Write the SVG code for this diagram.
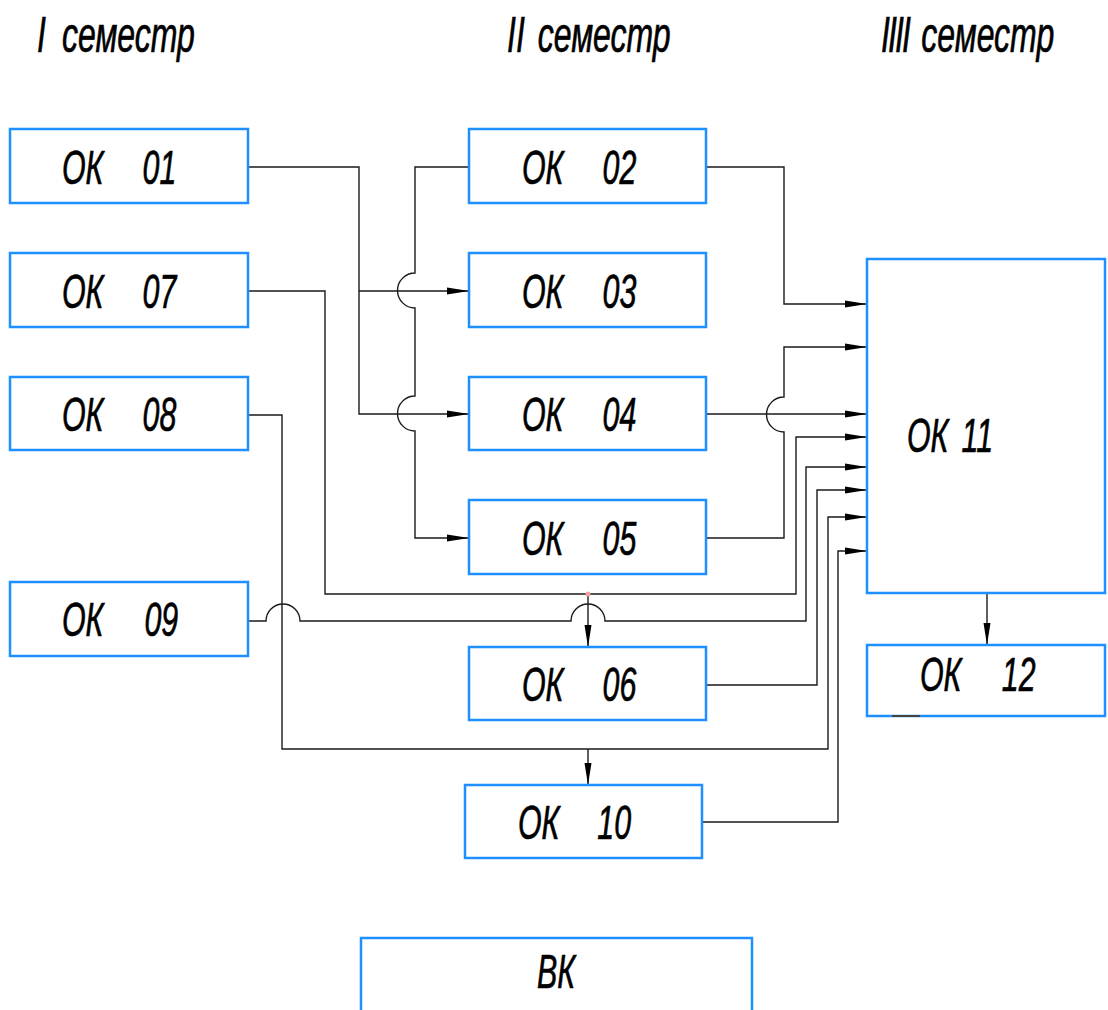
<svg xmlns="http://www.w3.org/2000/svg" width="1108" height="1010" viewBox="0 0 1108 1010">
<style>
.box{fill:#fff;stroke:#1e8fff;stroke-width:2.5}
.t{font-family:"Liberation Sans",Arial,sans-serif;font-style:italic;font-size:49px;fill:#000;stroke:#000;stroke-width:0.7}
.h{font-family:"Liberation Sans",Arial,sans-serif;font-style:italic;font-size:50px;fill:#000;stroke:#000;stroke-width:0.7}
.c{fill:none;stroke:#1a1a1a;stroke-width:1.4}
.a{marker-end:url(#arr)}
</style>
<defs>
<marker id="arr" markerUnits="userSpaceOnUse" markerWidth="24" markerHeight="10" refX="22" refY="4" orient="auto">
<path d="M0,0.5 L22,4 L0,7.5 Z" fill="#000"/>
</marker>
</defs>
<rect width="1108" height="1010" fill="#fff"/>
<g id="titles">
<text class="h" transform="translate(37,52) scale(0.64,1)"><tspan x="0">I</tspan> <tspan x="39">семестр</tspan></text>
<text class="h" transform="translate(507,52) scale(0.64,1)"><tspan x="0">II</tspan> <tspan x="48">семестр</tspan></text>
<text class="h" transform="translate(881,52) scale(0.64,1)"><tspan x="0" letter-spacing="-3">IIII</tspan> <tspan x="63">семестр</tspan></text>
</g>
<g id="connectors">
<path class="c a" d="M248,167 H359 V414 H469"/>
<path class="c a" d="M359,291 H469"/>
<path class="c a" d="M469,167 H415 V273 A17.5 17.5 0 0 0 415 308 V396 A17.5 17.5 0 0 0 415 431 V538 H469"/>
<path class="c a" d="M706,167 H784 V304 H867"/>
<path class="c a" d="M706,414 H867"/>
<path class="c a" d="M706,538 H784 V432 A17.5 17.5 0 0 1 784 397 V347 H867"/>
<path class="c a" d="M248,291 H325 V594 H796 V437 H867"/>
<path class="c a" d="M588,594 V647"/>
<path class="c a" d="M248,621 H266 A17 17 0 0 1 300 621 H571 A17 17 0 0 1 605 621 H806 V467 H867"/>
<path class="c a" d="M248,415 H282 V749 H828 V517 H867"/>
<path class="c a" d="M588,749 V785"/>
<path class="c a" d="M706,685 H817 V490 H867"/>
<path class="c a" d="M702,822 H838 V551 H867"/>
<path class="c a" d="M987,593 V645"/>
<circle cx="588" cy="594" r="2.5" fill="#f4a0a0"/>
</g>
<g id="ok01"><rect class="box" x="10" y="129" width="238" height="74"/><text class="t" transform="translate(62,184) scale(0.62,1)"><tspan x="0">ОК</tspan> <tspan x="130">01</tspan></text></g>
<g id="ok07"><rect class="box" x="10" y="253" width="238" height="74"/><text class="t" transform="translate(62,308) scale(0.62,1)"><tspan x="0">ОК</tspan> <tspan x="130">07</tspan></text></g>
<g id="ok08"><rect class="box" x="10" y="377" width="238" height="73"/><text class="t" transform="translate(62,431) scale(0.62,1)"><tspan x="0">ОК</tspan> <tspan x="130">08</tspan></text></g>
<g id="ok09"><rect class="box" x="10" y="582" width="238" height="74"/><text class="t" transform="translate(62,636) scale(0.62,1)"><tspan x="0">ОК</tspan> <tspan x="133">09</tspan></text></g>
<g id="ok02"><rect class="box" x="469" y="129" width="237" height="74"/><text class="t" transform="translate(522,184) scale(0.62,1)"><tspan x="0">ОК</tspan> <tspan x="130">02</tspan></text></g>
<g id="ok03"><rect class="box" x="469" y="253" width="237" height="74"/><text class="t" transform="translate(522,308) scale(0.62,1)"><tspan x="0">ОК</tspan> <tspan x="130">03</tspan></text></g>
<g id="ok04"><rect class="box" x="469" y="377" width="237" height="73"/><text class="t" transform="translate(522,431) scale(0.62,1)"><tspan x="0">ОК</tspan> <tspan x="130">04</tspan></text></g>
<g id="ok05"><rect class="box" x="469" y="500" width="237" height="74"/><text class="t" transform="translate(522,555) scale(0.62,1)"><tspan x="0">ОК</tspan> <tspan x="130">05</tspan></text></g>
<g id="ok06"><rect class="box" x="469" y="647" width="237" height="73"/><text class="t" transform="translate(522,701) scale(0.62,1)"><tspan x="0">ОК</tspan> <tspan x="130">06</tspan></text></g>
<g id="ok10"><rect class="box" x="465" y="785" width="237" height="73"/><text class="t" transform="translate(518,839) scale(0.62,1)"><tspan x="0">ОК</tspan> <tspan x="128">10</tspan></text></g>
<g id="ok11"><rect class="box" x="867" y="259" width="238" height="334"/><text class="t" transform="translate(907,452) scale(0.62,1)"><tspan x="0">ОК</tspan> <tspan x="88">11</tspan></text></g>
<g id="ok12"><rect class="box" x="867" y="645" width="238" height="71"/><text class="t" transform="translate(920,691) scale(0.62,1)"><tspan x="0">ОК</tspan> <tspan x="132">12</tspan></text><path d="M892,716 H920" stroke="#444" stroke-width="2"/></g>
<g id="vk"><path class="box" d="M361,1014 V938 H752 V1014"/><text class="t" transform="translate(537,988) scale(0.62,1)">ВК</text></g>
</svg>
